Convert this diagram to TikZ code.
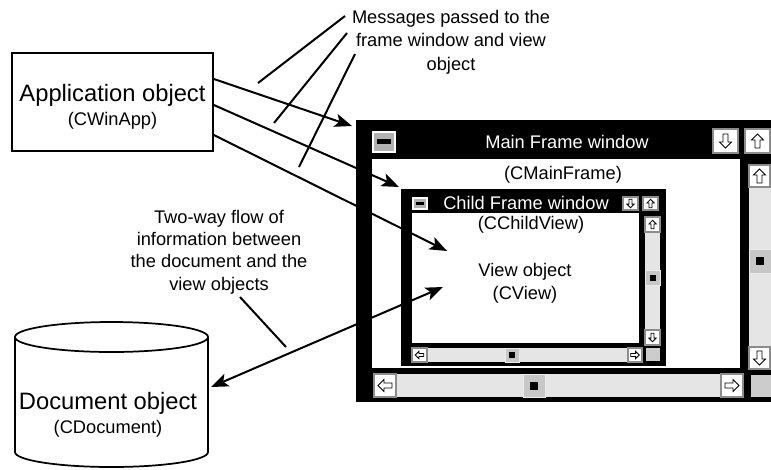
\documentclass[tikz,border=0pt]{standalone}
\usepackage{fontspec}
\setmainfont{Liberation Sans}
\usetikzlibrary{arrows.meta}

\tikzset{
  big/.style={font=\fontsize{17.8}{19}\selectfont},
  note/.style={font=\fontsize{13.7}{17.5}\selectfont, align=center, inner sep=0pt},
  ttl/.style={font=\fontsize{13.7}{16}\selectfont, white, inner sep=0pt},
  msg/.style={line width=1.5pt, ->},
  ptr/.style={line width=1.5pt},
  btn/.style={fill=white, draw=black!45, line width=0.8pt},
  track/.style={fill=black!10},
  thumb/.style={fill=black!22, draw=black!8, line width=0.6pt},
  corner/.style={fill=black!20},
  minbox/.style={fill=black!30, draw=white, line width=0.8pt},
  uparr/.pic={\draw[line width=0.6pt, fill=white] (0,-7) -- (6,-1) -- (2.5,-1) -- (2.5,7) -- (-2.5,7) -- (-2.5,-1) -- (-6,-1) -- cycle;}
}

\begin{document}
\begin{tikzpicture}[x=0.75pt, y=-0.75pt, >={Stealth[length=13pt, width=10pt, inset=3pt]}]
  \useasboundingbox (0,0) rectangle (771,469);
  \clip (0,0) rectangle (771,469);

  % ==================== application and document ====================
  \node[draw, line width=1.3pt, minimum width=150.75pt, minimum height=73.5pt] (app) at (112.5,102) {};
  \node[align=center, inner sep=0pt] (apptxt) at (112.5,107)
    {\fontsize{17.8}{19}\selectfont Application object\\[3pt]\fontsize{13.7}{16}\selectfont (CWinApp)};

  % cylinder
  \draw[line width=1.3pt] (111.5,337) ellipse [x radius=96.5, y radius=15];
  \draw[line width=1.3pt] (15,337) -- (15,452) arc [start angle=180, end angle=0, x radius=96.5, y radius=15] -- (208,337);
  \node[align=center, inner sep=0pt] (doc) at (108,415)
    {\fontsize{17.8}{19}\selectfont Document object\\[3pt]\fontsize{13.7}{16}\selectfont (CDocument)};
  \coordinate (docedge) at (211,387);

  % ==================== main frame window ====================
  \fill (356,120) rectangle (780,402);
  \fill[white] (372,159) rectangle (740,368);
  \draw[minbox] (373,132) rectangle (395,152);
  \fill (377,139) rectangle (391,144);
  \node[ttl] (mainttl) at (567,142) {Main Frame window};
  \draw[btn] (713,129) rectangle (738,153); \pic[rotate=180] at (725.5,141) {uparr};
  \draw[btn] (745,129) rectangle (770,153); \pic at (757.5,141) {uparr};

  % vertical scroll bar
  \fill[track] (749,187) rectangle (771,347);
  \draw[btn] (749,165) rectangle (770,187); \pic at (759.5,176) {uparr};
  \draw[thumb] (749,249) rectangle (771,273);
  \fill (756,257) rectangle (764,265);
  \draw[btn] (749,347) rectangle (770,369); \pic[rotate=180] at (759.5,358) {uparr};
  \fill[corner] (751,375) rectangle (771,397);

  % horizontal scroll bar
  \fill[track] (396,374) rectangle (721,397);
  \draw[btn] (374,374) rectangle (396,397); \pic[rotate=90] at (385,385.5) {uparr};
  \draw[thumb] (523,374) rectangle (545,397);
  \fill (530,382) rectangle (538,390);
  \draw[btn] (721,374) rectangle (743,397); \pic[rotate=-90] at (732,385.5) {uparr};

  \node[note] (mainname) at (563,175) {(CMainFrame)};

  % ==================== child frame window ====================
  \fill (401,189) rectangle (666,366);
  \fill[white] (412,213) rectangle (639,343);
  \draw[minbox] (413,198) rectangle (427,209);
  \fill (416,202) rectangle (424,205);
  \node[ttl] (childttl) at (526,203) {Child Frame window};
  \draw[btn] (623,197) rectangle (638,210); \pic[rotate=180, scale=0.6] at (630.5,203.5) {uparr};
  \draw[btn] (643,197) rectangle (658,210); \pic[scale=0.6] at (650.5,203.5) {uparr};

  % vertical scroll bar
  \fill[track] (645,232) rectangle (660,330);
  \draw[btn] (645,217) rectangle (660,232); \pic[scale=0.6] at (652.5,224.5) {uparr};
  \draw[thumb] (645,270) rectangle (660,285);
  \fill (649.5,274.5) rectangle (655.5,280.5);
  \draw[btn] (645,330) rectangle (660,345); \pic[rotate=180, scale=0.6] at (652.5,337.5) {uparr};
  \fill[corner] (646,348) rectangle (660,361);

  % horizontal scroll bar
  \fill[track] (427,348) rectangle (628,362);
  \draw[btn] (412,348) rectangle (427,362); \pic[rotate=90, scale=0.6] at (419.5,355) {uparr};
  \draw[thumb] (505,348) rectangle (519,362);
  \fill (509,352) rectangle (515,358);
  \draw[btn] (628,348) rectangle (642,362); \pic[rotate=-90, scale=0.6] at (635,355) {uparr};

  \node[note] (childname) at (531,225) {(CChildView)};
  \node[note] (view) at (525,283) {View object\\(CView)};

  % ==================== messages ====================
  \coordinate (mainhit) at (352,126);
  \coordinate (childhit) at (399,187);
  \coordinate (viewhit) at (447,251);
  \coordinate (viewback) at (443,287);

  \draw[msg] ([yshift=17.25pt]app.east) -- (mainhit);
  \draw[msg] ([yshift=-2.25pt]app.east) -- (childhit);
  \draw[msg] ([yshift=-24.75pt]app.east) -- (viewhit);
  \draw[msg, <->] (docedge) -- (viewback);

  % notes and pointers
  \node[note] (msgnote) at (451,42) {Messages passed to the\\frame window and view\\object};
  \coordinate (p1a) at (345,16);  \coordinate (p1b) at (258,83);
  \coordinate (p2a) at (347,33);  \coordinate (p2b) at (274,123);
  \coordinate (p3a) at (355,54);  \coordinate (p3b) at (299,167);
  \draw[ptr] (p1a) -- (p1b);
  \draw[ptr] (p2a) -- (p2b);
  \draw[ptr] (p3a) -- (p3b);

  \node[note, font=\fontsize{13.7}{16.7}\selectfont] (flownote) at (219,252) {Two-way flow of\\information between\\the document and the\\view objects};
  \coordinate (p4a) at (240,297); \coordinate (p4b) at (286,347);
  \draw[ptr] (p4a) -- (p4b);
\end{tikzpicture}
\end{document}
